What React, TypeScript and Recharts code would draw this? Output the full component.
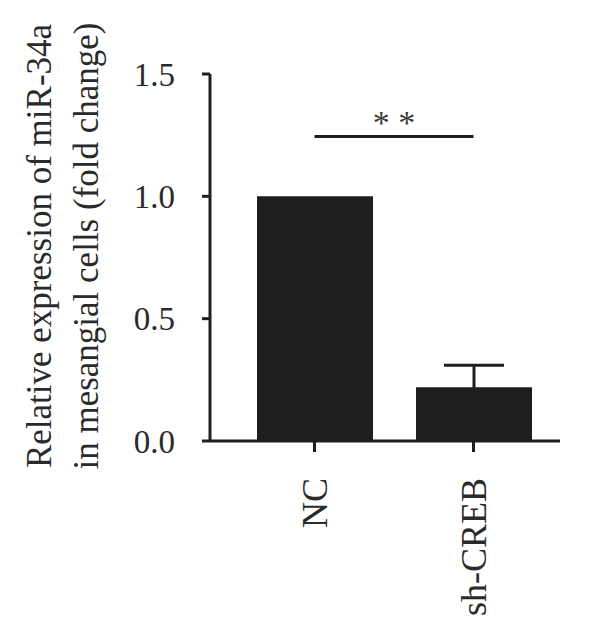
import React from "react";
import {
  Bar,
  BarChart,
  ErrorBar,
  ReferenceLine,
  XAxis,
  YAxis,
} from "recharts";

const groups = ["NC", "sh-CREB"];
const expression = [1.0, 0.22];
const errorSd = [null, 0.09];
const yTicks = [0, 0.5, 1.0, 1.5];
const sigLevel = 1.245;
const sigText = "* *";

const data = groups.map((g, i) => ({
  name: g,
  value: expression[i],
  err: errorSd[i],
}));

const ink = "#1e1e1c";
const font = "'Liberation Serif', 'Times New Roman', serif";

const XTick = (props: any) => {
  const { x, y, payload } = props;
  return (
    <text
      x={x}
      y={y}
      transform={`rotate(-90, ${x}, ${y})`}
      textAnchor="end"
      dominantBaseline="central"
      fontFamily={font}
      fontSize={36}
      fill="#2a2a2a"
    >
      {payload.value}
    </text>
  );
};

const YLabel = () => {
  const cy = 246;
  return (
    <g fontFamily={font} fontSize={35} fill="#2a2a2a">
      <text
        x={39}
        y={cy}
        transform={`rotate(-90, 39, ${cy})`}
        textAnchor="middle"
        dominantBaseline="central"
      >
        Relative expression of miR-34a
      </text>
      <text
        x={86}
        y={cy}
        transform={`rotate(-90, 86, ${cy})`}
        textAnchor="middle"
        dominantBaseline="central"
      >
        in mesangial cells (fold change)
      </text>
    </g>
  );
};

export default function App() {
  return (
    <div style={{ position: "absolute", left: 0, top: 0, background: "#fff" }}>
      <BarChart
        width={600}
        height={637}
        data={data}
        margin={{ top: 74, right: 40, bottom: 0, left: 0 }}
      >
        <XAxis
          dataKey="name"
          height={196}
          padding={{ left: 25, right: 7 }}
          stroke={ink}
          strokeWidth={3}
          tickSize={11}
          tickMargin={26}
          tick={<XTick />}
        />
        <YAxis
          width={210}
          domain={[0, 1.5]}
          ticks={yTicks}
          tickFormatter={(v: number) => v.toFixed(1)}
          stroke={ink}
          strokeWidth={3}
          tickSize={8}
          tickMargin={27}
          tick={{ fontFamily: font, fontSize: 33, fill: "#2a2a2a" }}
          label={<YLabel />}
        />
        <Bar dataKey="value" fill={ink} barSize={116} isAnimationActive={false}>
          <ErrorBar dataKey="err" width={30} stroke={ink} strokeWidth={3} />
        </Bar>
        <ReferenceLine
          segment={[
            { x: groups[0], y: sigLevel },
            { x: groups[1], y: sigLevel },
          ]}
          stroke={ink}
          strokeWidth={3}
          ifOverflow="visible"
          label={{
            value: sigText,
            position: "top",
            offset: 2,
            fontFamily: font,
            fontSize: 34,
            fill: "#3a3a3a",
          }}
        />
      </BarChart>
    </div>
  );
}
